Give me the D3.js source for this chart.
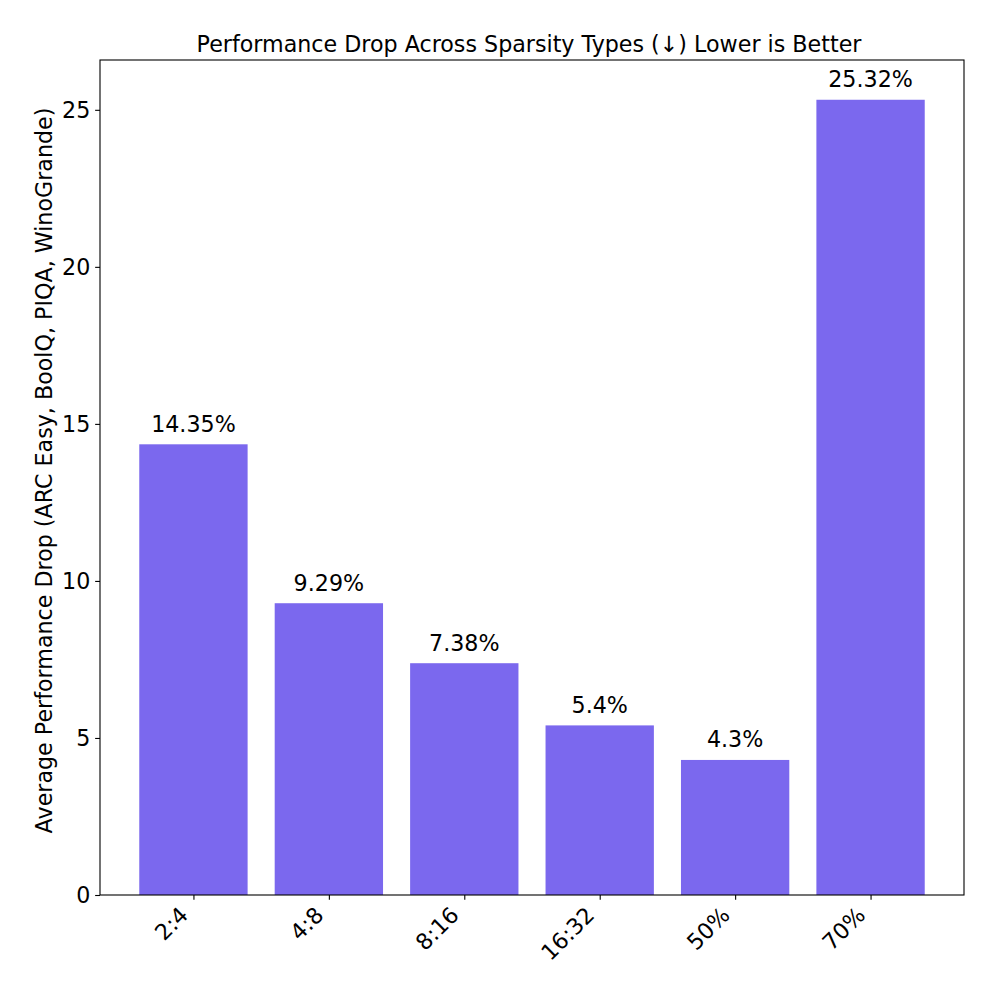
<!DOCTYPE html>
<html><head><meta charset="utf-8">
<script src="https://cdn.jsdelivr.net/npm/d3@7"></script>
<style>body{margin:0;background:#fff}svg{display:block}text{font-family:"DejaVu Sans",sans-serif;fill:#000}</style>
</head><body><svg id="c" width="1000" height="1000"></svg>
<script>
const categories = ["2:4","4:8","8:16","16:32","50%","70%"];
const values = [14.35, 9.29, 7.38, 5.4, 4.3, 25.32];
const valueLabels = ["14.35%","9.29%","7.38%","5.4%","4.3%","25.32%"];
const yTicks = [0,5,10,15,20,25];
const title = "Performance Drop Across Sparsity Types (\u2193) Lower is Better";
const yLabel = "Average Performance Drop (ARC Easy, BoolQ, PIQA, WinoGrande)";

const FS=22.2;
const L=100,R=964,T=60,B=895;
const svg=d3.select("#c");
const x=d3.scaleLinear().domain([-0.69,5.69]).range([L,R]);
const y=d3.scaleLinear().domain([0,d3.max(values)*1.05]).range([B,T]);
const bw=x(0.8)-x(0);

svg.selectAll("rect.bar").data(values).join("rect").attr("class","bar")
 .attr("x",(d,i)=>x(i)-bw/2).attr("width",bw)
 .attr("y",d=>y(d)).attr("height",d=>B-y(d)).attr("fill","#7B68EE");

svg.selectAll("text.vl").data(values).join("text").attr("class","vl")
 .attr("x",(d,i)=>x(i)).attr("y",d=>y(d)-12.5).attr("text-anchor","middle")
 .attr("font-size",FS).text((d,i)=>valueLabels[i]);

const ya=svg.append("g").attr("transform",`translate(${L},0)`)
 .call(d3.axisLeft(y).tickValues(yTicks).tickFormat(d3.format("d")).tickSize(4.86).tickPadding(4.86));
ya.select(".domain").remove();
ya.selectAll("text").attr("font-size",FS).attr("font-family","DejaVu Sans").attr("dy","0.35em");
ya.selectAll("line").attr("stroke","#000").attr("stroke-width",1.1);

const xa=svg.append("g").attr("transform",`translate(0,${B})`)
 .call(d3.axisBottom(x).tickValues(d3.range(categories.length)).tickFormat(i=>categories[i]).tickSize(4.86));
xa.select(".domain").remove();
xa.selectAll("line").attr("stroke","#000").attr("stroke-width",1.1);
xa.selectAll("text").attr("font-size",FS).attr("font-family","DejaVu Sans")
 .attr("text-anchor","end").attr("y",null).attr("dy",null)
 .attr("transform","translate(-4.5,21.5) rotate(-45)");

svg.append("rect").attr("x",L).attr("y",T).attr("width",R-L).attr("height",B-T)
 .attr("fill","none").attr("stroke","#000").attr("stroke-width",1.1);

svg.append("text").attr("x",(L+R)/2-3).attr("y",T-8).attr("text-anchor","middle")
 .attr("font-size",FS).text(title);
svg.append("text").attr("transform",`translate(52,${(T+B)/2-7}) rotate(-90)`)
 .attr("text-anchor","middle").attr("font-size",FS).text(yLabel);
</script></body></html>
